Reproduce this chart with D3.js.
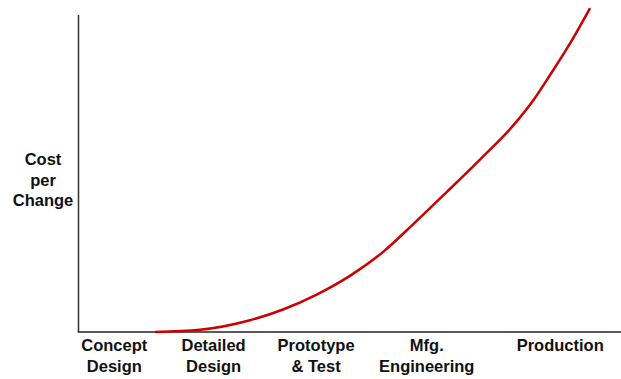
<!DOCTYPE html>
<html>
<head>
<meta charset="utf-8">
<script src="https://cdn.jsdelivr.net/npm/d3@7/dist/d3.min.js"></script>
<style>
  html, body { margin: 0; padding: 0; background: #fff; }
  svg { display: block; }
  text { font-family: "Liberation Sans", Arial, sans-serif; font-weight: bold; fill: #111; }
</style>
</head>
<body>
<svg id="chart" width="621" height="379"></svg>
<script>
// Development stages along the horizontal axis (position in % of project life)
const stages = [
  ["Concept", "Design"],
  ["Detailed", "Design"],
  ["Prototype", "& Test"],
  ["Mfg.", "Engineering"],
  ["Production"]
];
const stagePos = [6.6, 24.9, 43.8, 64.2, 88.8];

// Cost-per-change curve: project progress (%) and relative cost
const progress = [14.1, 22.4, 31.6, 37.7, 44.0, 50.1, 56.1, 62.0, 67.9, 74.0, 79.9, 84.2, 86.9, 90.1, 94.3];
const cost     = [0.0,  0.7,  3.7,  7.1,  11.9, 17.8, 25.2, 34.5, 44.2, 54.4, 64.7, 74.0, 81.0, 89.6, 102.2];

const yLabel = ["Cost", "per", "Change"];

const svg = d3.select("#chart");
const margin = { left: 78.5, right: 0, top: 15, bottom: 47 };
const W = 621, H = 379;

const x = d3.scaleLinear().domain([0, 100]).range([margin.left, W - margin.right]);
const y = d3.scaleLinear().domain([0, 100]).range([H - margin.bottom, margin.top]);

// Axes drawn as plain lines (no ticks)
svg.append("line")
  .attr("x1", x(0)).attr("x2", x(0))
  .attr("y1", y(100)).attr("y2", y(0))
  .attr("stroke", "#333").attr("stroke-width", 1.5);
svg.append("line")
  .attr("x1", x(0) - 0.75).attr("x2", x(100))
  .attr("y1", y(0)).attr("y2", y(0))
  .attr("stroke", "#222").attr("stroke-width", 1.6);

// Stage labels under the axis
const labels = svg.append("g").selectAll("text")
  .data(stages)
  .join("text")
  .attr("text-anchor", "middle")
  .attr("font-size", 16.5)
  .attr("x", (d, i) => x(stagePos[i]))
  .attr("y", 351);
labels.selectAll("tspan")
  .data(d => d)
  .join("tspan")
  .attr("x", function () { return d3.select(this.parentNode).attr("x"); })
  .attr("dy", (d, i) => i === 0 ? 0 : 20.5)
  .text(d => d);

// Vertical axis title
svg.append("text")
  .attr("text-anchor", "middle")
  .attr("font-size", 16.5)
  .attr("y", 165)
  .selectAll("tspan")
  .data(yLabel)
  .join("tspan")
  .attr("x", 43)
  .attr("dy", (d, i) => i === 0 ? 0 : 20.5)
  .text(d => d);

// Cost curve
const pts = progress.map((p, i) => [p, cost[i]]);
svg.append("path")
  .datum(pts)
  .attr("fill", "none")
  .attr("stroke", "#cc0000")
  .attr("stroke-width", 2.5)
  .attr("d", d3.line().x(d => x(d[0])).y(d => y(d[1])).curve(d3.curveMonotoneX));
</script>
</body>
</html>
